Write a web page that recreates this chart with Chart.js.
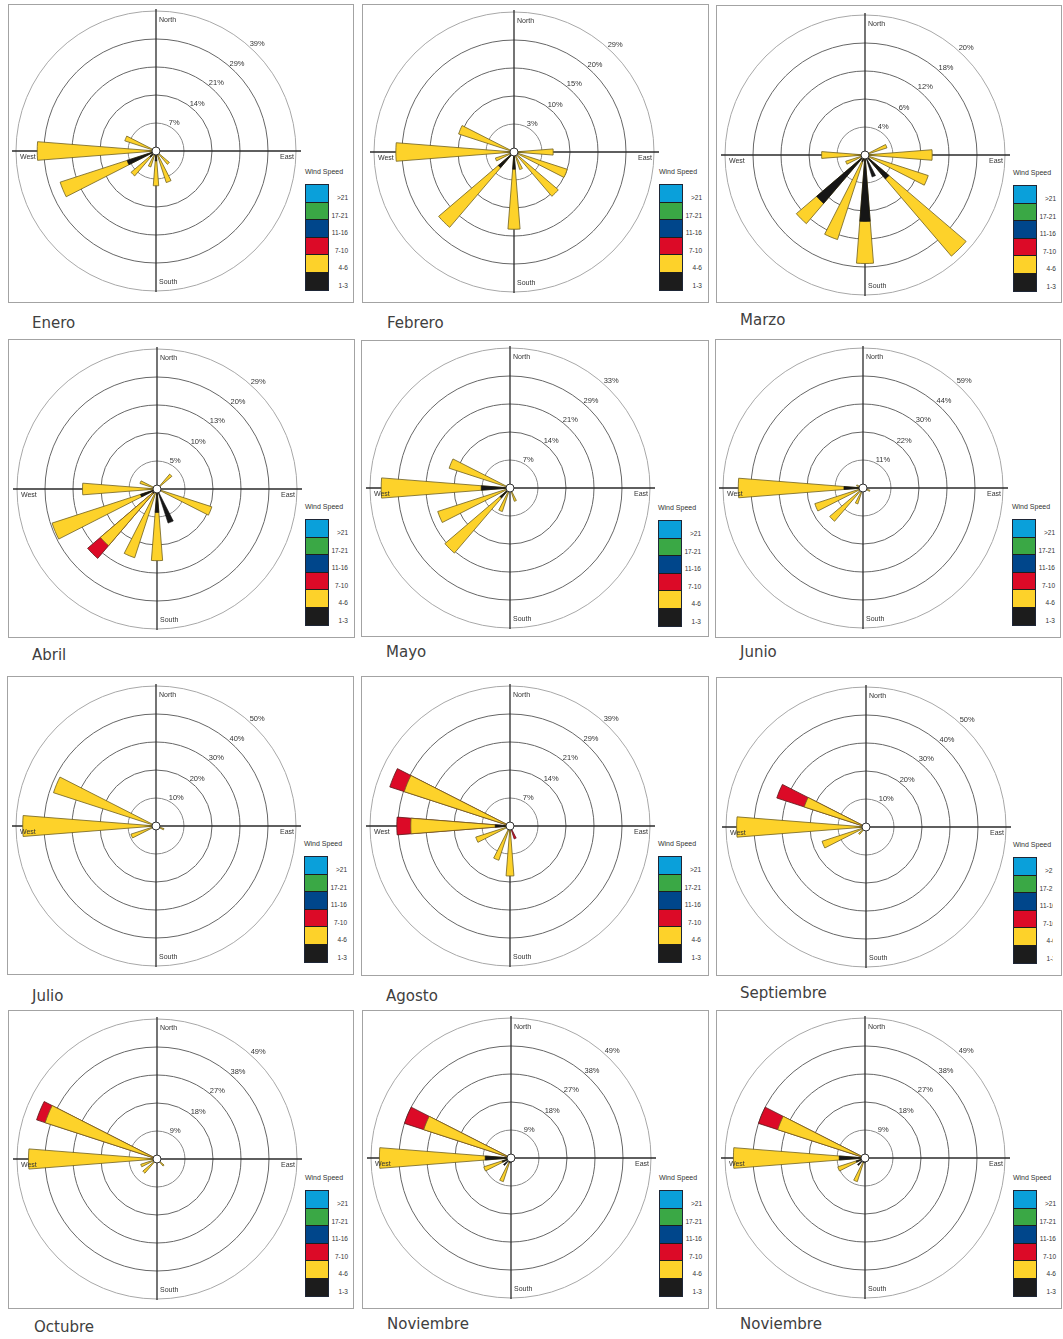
<!DOCTYPE html>
<html><head><meta charset="utf-8">
<script src="https://cdn.jsdelivr.net/npm/chart.js@4.4.1/dist/chart.umd.min.js"></script>
<style>
html,body{margin:0;padding:0;background:#fff;}
body{width:1063px;height:1339px;position:relative;overflow:hidden;font-family:"Liberation Sans",Arial,sans-serif;}
.panel{position:absolute;border:1px solid #a3a3a3;box-sizing:border-box;background:#fff;}
.rose{position:absolute;width:300px;height:300px;}
.month{position:absolute;font-family:"DejaVu Sans",sans-serif;font-size:15px;color:#404040;line-height:18px;white-space:nowrap;}
.lgTitle{position:absolute;font-size:7px;color:#333;white-space:nowrap;transform:translateX(-50%);line-height:8px;}
.lgBox{position:absolute;width:22px;border:1.5px solid #1e2636;}
.lgCell{height:17.5px;box-sizing:border-box;border-bottom:1px solid #1e1e1e;}
.lgCell:last-child{border-bottom:none;}
.lgText{position:absolute;overflow:hidden;height:110px;}
.lgText div{position:absolute;text-align:right;font-size:6.5px;color:#333;line-height:8px;white-space:nowrap;}
</style></head><body>
<script>
// ---------- categories ----------
const directions = ['N','NNE','NE','ENE','E','ESE','SE','SSE','S','SSW','SW','WSW','W','WNW','NW','NNW'];
const speedBins = ['>21','17-21','11-16','7-10','4-6','1-3'];
const speedColors = ['#0aa0da','#3aa845','#00468b','#dc0a27','#fdd22a','#1c1c1c'];
const monthNames = ['Enero','Febrero','Marzo','Abril','Mayo','Junio','Julio','Agosto','Septiembre','Octubre','Noviembre','Noviembre'];

// ---------- series values (% of time), order = directions ----------
//                 N  NNE NE ENE  E   ESE   SE   SSE   S    SSW  SW   WSW  W    WNW  NW NNW
const enero_1_3  = [0, 0, 0, 0,   0,  0,    0,   0,    2.5, 1.0, 2.0, 7.6, 0,   0,   0, 0];
const enero_4_6  = [0, 0, 0, 0,   0,  0,    4.4, 8.3,  6.2, 3.2, 6.2, 17.6,29.7,8.2, 0, 0];
const enero_7_10 = [0, 0, 0, 0,   0,  0,    0,   0,    0,   0,   0,   0,   0,   0,   0, 0];
const enero_rings = ['7%','14%','21%','29%','39%'];
const enero_step = 7;

const febrero_1_3  = [0, 0, 0, 0,   0,   0,    0,    0,   3.1, 0,   3.7, 0,   0,    0,    0, 0];
const febrero_4_6  = [0, 0, 0, 0,   7.0, 10.0, 10.4, 3.3, 10.7,0,   14.0,3.5, 21.1, 10.4, 0, 0];
const febrero_7_10 = [0, 0, 0, 0,   0,   0,    0,    0,   0,   0,   0,   0,   0,    0,    0, 0];
const febrero_rings = ['3%','10%','15%','20%','29%'];
const febrero_step = 5;

const marzo_1_3  = [0, 0, 0, 0,   0,   0,   4.5,  3.3, 9.5, 1.0,  9.1, 0,   0,   0, 0, 0];
const marzo_4_6  = [0, 0, 0, 3.3, 9.6, 9.5, 14.5, 0,   6.0, 11.7, 3.8, 2.9, 6.2, 0, 0, 0];
const marzo_7_10 = [0, 0, 0, 0,   0,   0,   0,    0,   0,   0,    0,   0,   0,   0, 0, 0];
const marzo_rings = ['4%','6%','12%','18%','20%'];
const marzo_step = 4;

const abril_1_3  = [0, 0, 0,   0, 0, 0,    0, 6.4, 4.2, 0,    1.0,  3.1,  0,    0,   0, 0];
const abril_4_6  = [0, 0, 3.5, 0, 0, 10.3, 0, 0,   8.6, 12.9, 12.3, 16.6, 13.3, 3.2, 0, 0];
const abril_7_10 = [0, 0, 0,   0, 0, 0,    0, 0,   0,   0,    3.0,  0,    0,    0,   0, 0];
const abril_rings = ['5%','10%','13%','20%','29%'];
const abril_step = 5;

const mayo_1_3  = [0, 0, 0, 0, 0, 0, 0, 0,   0, 0,   3.3,  0,    7.2,  0,    0, 0];
const mayo_4_6  = [0, 0, 0, 0, 0, 0, 0, 3.5, 0, 6.2, 18.1, 19.0, 25.0, 16.0, 0, 0];
const mayo_7_10 = [0, 0, 0, 0, 0, 0, 0, 0,   0, 0,   0,    0,    0,    0,    0, 0];
const mayo_rings = ['7%','14%','21%','29%','33%'];
const mayo_step = 7;

const junio_1_3  = [0, 0, 0, 0, 0, 0,   0, 0, 0, 0,   0,    0,    7.5,  0,   0, 0];
const junio_4_6  = [0, 0, 0, 0, 0, 2.9, 0, 0, 0, 6.6, 17.2, 19.9, 41.5, 2.7, 0, 0];
const junio_7_10 = [0, 0, 0, 0, 0, 0,   0, 0, 0, 0,   0,    0,    0,    0,   0, 0];
const junio_rings = ['11%','22%','30%','44%','59%'];
const junio_step = 11;

const julio_1_3  = [0, 0, 0, 0, 0, 0,   0, 0, 0, 0, 0, 0,   0,    0,    0, 0];
const julio_4_6  = [0, 0, 0, 0, 0, 3.0, 0, 0, 0, 0, 0, 9.4, 47.6, 38.5, 0, 0];
const julio_7_10 = [0, 0, 0, 0, 0, 0,   0, 0, 0, 0, 0, 0,   0,    0,    0, 0];
const julio_rings = ['10%','20%','30%','40%','50%'];
const julio_step = 10;

const agosto_1_3  = [0, 0, 0, 0, 0, 0, 0, 0,   0,    0,   0, 0,   3.7,  0,    0, 0];
const agosto_4_6  = [0, 0, 0, 0, 0, 0, 0, 0,   12.5, 9.0, 0, 9.0, 21.1, 27.8, 0, 0];
const agosto_7_10 = [0, 0, 0, 0, 0, 0, 0, 3.4, 0,    0,   0, 0,   3.5,  3.8,  0, 0];
const agosto_rings = ['7%','14%','21%','29%','39%'];
const agosto_step = 7;

const septiembre_1_3  = [0, 0, 0, 0, 0, 0, 0, 0, 0, 0, 0,   0,    0,    0,    0, 0];
const septiembre_4_6  = [0, 0, 0, 0, 0, 0, 0, 0, 0, 0, 3.5, 16.5, 46.2, 23.2, 0, 0];
const septiembre_7_10 = [0, 0, 0, 0, 0, 0, 0, 0, 0, 0, 0,   0,    0,    10.3, 0, 0];
const septiembre_rings = ['10%','20%','30%','40%','50%'];
const septiembre_step = 10;

const octubre_1_3  = [0, 0, 0, 0, 0, 0, 0,   0, 0, 0, 0,   0,   0,    0,    0, 0];
const octubre_4_6  = [0, 0, 0, 0, 0, 0, 3.0, 0, 0, 0, 6.0, 5.5, 41.3, 37.8, 0, 0];
const octubre_7_10 = [0, 0, 0, 0, 0, 0, 0,   0, 0, 0, 0,   0,   0,    2.9,  0, 0];
const octubre_rings = ['9%','18%','27%','38%','49%'];
const octubre_step = 9;

const noviembre_1_3  = [0, 0, 0, 0, 0, 0, 0, 0, 1.5, 1.5, 3.2, 3.0, 8.3,  0,    0, 0];
const noviembre_4_6  = [0, 0, 0, 0, 0, 0, 0, 0, 0,   6.5, 0,   6.2, 34.0, 29.5, 0, 0];
const noviembre_7_10 = [0, 0, 0, 0, 0, 0, 0, 0, 0,   0,   0,   0,   0,    6.5,  0, 0];
const noviembre_rings = ['9%','18%','27%','38%','49%'];
const noviembre_step = 9;

const roses = [
  {b:enero_1_3, y:enero_4_6, r:enero_7_10, rings:enero_rings, step:enero_step},
  {b:febrero_1_3, y:febrero_4_6, r:febrero_7_10, rings:febrero_rings, step:febrero_step},
  {b:marzo_1_3, y:marzo_4_6, r:marzo_7_10, rings:marzo_rings, step:marzo_step},
  {b:abril_1_3, y:abril_4_6, r:abril_7_10, rings:abril_rings, step:abril_step},
  {b:mayo_1_3, y:mayo_4_6, r:mayo_7_10, rings:mayo_rings, step:mayo_step},
  {b:junio_1_3, y:junio_4_6, r:junio_7_10, rings:junio_rings, step:junio_step},
  {b:julio_1_3, y:julio_4_6, r:julio_7_10, rings:julio_rings, step:julio_step},
  {b:agosto_1_3, y:agosto_4_6, r:agosto_7_10, rings:agosto_rings, step:agosto_step},
  {b:septiembre_1_3, y:septiembre_4_6, r:septiembre_7_10, rings:septiembre_rings, step:septiembre_step},
  {b:octubre_1_3, y:octubre_4_6, r:octubre_7_10, rings:octubre_rings, step:octubre_step},
  {b:noviembre_1_3, y:noviembre_4_6, r:noviembre_7_10, rings:noviembre_rings, step:noviembre_step},
  {b:noviembre_1_3, y:noviembre_4_6, r:noviembre_7_10, rings:noviembre_rings, step:noviembre_step}
];

// ---------- layout (positions only) ----------
const layout = [
  {px:8,  py:4,    pw:346, ph:299, cx:156, cy:151,  mx:32,  my:323},
  {px:362,py:4,    pw:347, ph:299, cx:514, cy:152,  mx:387, my:323},
  {px:716,py:5,    pw:346, ph:298, cx:865, cy:155,  mx:740, my:320},
  {px:8,  py:339,  pw:347, ph:299, cx:157, cy:489,  mx:32,  my:655},
  {px:361,py:340,  pw:348, ph:297, cx:510, cy:488,  mx:386, my:652},
  {px:715,py:339,  pw:346, ph:299, cx:863, cy:488,  mx:740, my:652},
  {px:7,  py:676,  pw:347, ph:299, cx:156, cy:826,  mx:32,  my:996},
  {px:361,py:676,  pw:348, ph:300, cx:510, cy:826,  mx:386, my:996},
  {px:716,py:677,  pw:346, ph:299, cx:866, cy:827,  mx:740, my:993, clip:337},
  {px:8,  py:1010, pw:346, ph:299, cx:157, cy:1159, mx:34,  my:1327},
  {px:362,py:1010, pw:347, ph:299, cx:511, cy:1158, mx:387, my:1324},
  {px:716,py:1010, pw:346, ph:299, cx:865, cy:1158, mx:740, my:1324}
];

const WEDGE = 9;             // degrees of each petal
const tickAngles = [27, 37, 39, 41, 42];
const FONT = '"Liberation Sans", Arial, sans-serif';

function interleave(vals) { const out = []; vals.forEach(v => { out.push(v); out.push(0); }); return out; }

function makeExtras(rose) {
  return {
    id: 'roseExtras',
    beforeDatasetsDraw(chart) {
      const s = chart.scales.r, ctx = chart.ctx;
      const cx = s.xCenter, cy = s.yCenter, R = s.drawingArea;
      ctx.save();
      ctx.strokeStyle = '#2b2b2b';
      ctx.lineWidth = 1.3;
      ctx.beginPath();
      ctx.moveTo(cx - R - 4, cy); ctx.lineTo(cx + R + 5, cy);
      ctx.moveTo(cx, cy - R - 2); ctx.lineTo(cx, cy + R + 1);
      ctx.stroke();
      ctx.restore();
    },
    afterDatasetsDraw(chart) {
      const s = chart.scales.r, ctx = chart.ctx;
      const cx = s.xCenter, cy = s.yCenter, R = s.drawingArea;
      ctx.save();
      // centre disc
      ctx.beginPath();
      ctx.arc(cx, cy, 4, 0, Math.PI * 2);
      ctx.fillStyle = '#fff'; ctx.fill();
      ctx.strokeStyle = '#333'; ctx.lineWidth = 1; ctx.stroke();
      // compass labels
      ctx.fillStyle = '#333';
      ctx.font = '7px ' + FONT;
      ctx.textBaseline = 'middle';
      ctx.textAlign = 'left';
      ctx.fillText('North', cx + 3, cy - R + 9);
      ctx.fillText('South', cx + 3, cy + R - 9);
      ctx.fillText('West', cx - R + 4, cy + 6);
      ctx.textAlign = 'right';
      ctx.fillText('East', cx + R - 2, cy + 6);
      // ring labels
      ctx.font = '7.5px ' + FONT;
      ctx.textAlign = 'left';
      ctx.textBaseline = 'bottom';
      rose.rings.forEach((lab, i) => {
        const rr = s.getDistanceFromCenterForValue((i + 1) * rose.step);
        const a = tickAngles[i] * Math.PI / 180;
        ctx.fillText(lab, cx + rr * Math.sin(a), cy - rr * Math.cos(a) + 1);
      });
      ctx.restore();
    }
  };
}

roses.forEach((rose, k) => {
  const L = layout[k];
  // panel frame
  const panel = document.createElement('div');
  panel.className = 'panel';
  Object.assign(panel.style, {left: L.px + 'px', top: L.py + 'px', width: L.pw + 'px', height: L.ph + 'px'});
  document.body.appendChild(panel);

  // legend
  const title = document.createElement('div');
  title.className = 'lgTitle';
  title.textContent = 'Wind Speed';
  Object.assign(title.style, {left: (L.px + 316) + 'px', top: (L.py + 164) + 'px'});
  document.body.appendChild(title);
  const box = document.createElement('div');
  box.className = 'lgBox';
  Object.assign(box.style, {left: (L.px + 297) + 'px', top: (L.py + 180) + 'px'});
  speedColors.forEach(c => { const d = document.createElement('div'); d.className = 'lgCell'; d.style.background = c; box.appendChild(d); });
  document.body.appendChild(box);
  const txt = document.createElement('div');
  txt.className = 'lgText';
  const clipW = (L.clip || 341) - 318;
  Object.assign(txt.style, {left: (L.px + 318) + 'px', top: (L.py + 180) + 'px', width: clipW + 'px'});
  speedBins.forEach((lab, i) => {
    const d = document.createElement('div');
    d.textContent = lab;
    Object.assign(d.style, {left: '0px', width: '22px', top: (i * 17.5 + 10) + 'px'});
    txt.appendChild(d);
  });
  document.body.appendChild(txt);

  // month label
  const m = document.createElement('div');
  m.className = 'month';
  m.textContent = monthNames[k];
  Object.assign(m.style, {left: L.mx + 'px', top: (L.my - 9) + 'px'});
  document.body.appendChild(m);

  // chart
  const cv = document.createElement('canvas');
  cv.className = 'rose';
  cv.width = 300; cv.height = 300;
  Object.assign(cv.style, {left: (L.cx - 150) + 'px', top: (L.cy - 150) + 'px'});
  document.body.appendChild(cv);

  const cumB = rose.b.slice();
  const cumY = rose.b.map((v, i) => v + rose.y[i]);
  const cumR = cumY.map((v, i) => v + rose.r[i]);
  const labels = [];
  directions.forEach(d => { labels.push(d); labels.push(''); });
  const angleFn = c => (c.dataIndex % 2 === 0 ? WEDGE : 22.5 - WEDGE);
  const part = (arr) => (c => (c.dataIndex % 2 === 0 ? arr[c.dataIndex / 2] : 0));

  new Chart(cv, {
    type: 'polarArea',
    data: {
      labels: labels,
      datasets: [
        { label: '1-3', data: interleave(cumB), angle: angleFn,
          backgroundColor: c => part(rose.b)(c) > 0 ? '#161616' : 'rgba(0,0,0,0)',
          borderColor: '#111', borderWidth: c => part(rose.b)(c) > 0 ? 0.6 : 0 },
        { label: '4-6', data: interleave(cumY), angle: angleFn,
          backgroundColor: c => part(rose.y)(c) > 0 ? '#fdd22a' : 'rgba(0,0,0,0)',
          borderColor: '#6f6020', borderWidth: c => part(rose.y)(c) > 0 ? 0.8 : 0 },
        { label: '7-10', data: interleave(cumR), angle: angleFn,
          backgroundColor: c => part(rose.r)(c) > 0 ? '#dc0a27' : 'rgba(0,0,0,0)',
          borderColor: '#5a1a1a', borderWidth: c => part(rose.r)(c) > 0 ? 0.8 : 0 }
      ]
    },
    options: {
      responsive: false,
      animation: false,
      devicePixelRatio: 1,
      events: [],
      layout: { padding: 10 },
      plugins: { legend: { display: false }, tooltip: { enabled: false } },
      scales: {
        r: {
          min: 0, max: rose.step * 5,
          startAngle: -WEDGE / 2,
          ticks: { display: false, stepSize: rose.step },
          angleLines: { display: false },
          pointLabels: { display: false },
          grid: { circular: true, lineWidth: 1,
                  color: c => (c.index === 5 ? '#a8a8a8' : (c.index === 1 ? '#8a8a8a' : '#666')) }
        }
      }
    },
    plugins: [makeExtras(rose)]
  });
});
</script>
</body></html>
